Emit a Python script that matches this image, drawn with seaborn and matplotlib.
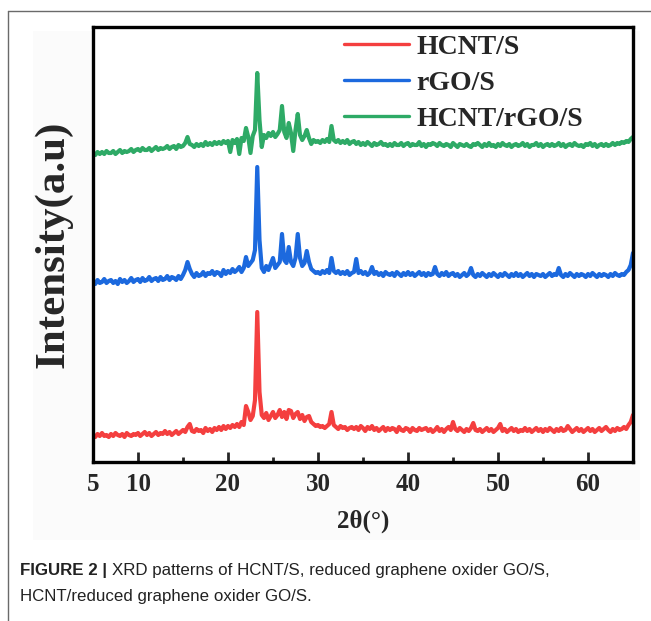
import numpy as np
import pandas as pd
import matplotlib
matplotlib.use("Agg")
import matplotlib.pyplot as plt
from matplotlib.lines import Line2D
from matplotlib.patches import Rectangle
from matplotlib.ticker import FixedLocator
import seaborn as sns

# ---------------- data ----------------
two_theta = np.arange(5.0, 65.001, 0.25)   # 241 sampling points

samples = ["HCNT/S", "rGO/S", "HCNT/rGO/S"]

hcnt_s = [
    27,25,28,26, 29,26,27,25, 28,26,29,27, 26,28,25,29, 27,26,28,27,
    29,26,28,30, 27,29,26,28, 30,27,29,28, 31,28,30,27, 29,31,28,30,
    32,30,35,38, 31,30,33,31, 32,29,34,31, 33,30,34,32, 35,32,36,33,
    36,34,37,35, 38,35,40,37, 56,50,42,46, 62,150,70,47, 44,49,42,46,
    50,44,47,52, 45,50,43,52, 51,44,48,50, 43,47,41,45, 46,40,38,36,
    37,35,36,34, 36,38,50,37, 35,33,36,34, 35,32,34,35, 33,35,32,36,
    34,31,35,33, 36,32,34,31, 33,35,31,34, 32,34,33,30, 35,32,31,34,
    33,30,34,32, 31,34,32,33, 34,31,33,30, 32,35,31,33, 30,33,35,32,
    40,33,31,34, 32,30,33,31, 34,39,32,31, 33,30,32,34, 31,33,30,32,
    34,38,31,33, 30,32,34,31, 33,30,32,31, 34,31,33,30, 32,34,31,33,
    30,33,31,34, 32,30,33,31, 34,31,32,36, 33,30,32,34, 31,33,30,32,
    34,31,33,30, 32,34,31,33, 35,32,30,33, 31,34,32,33, 35,33,37,40,
    47,
]

rgo_s = [
    29,26,30,27, 28,31,27,29, 30,27,29,26, 31,28,30,27, 29,32,28,30,
    31,28,32,29, 30,33,29,31, 32,29,33,30, 31,34,30,33, 32,30,34,31,
    35,40,48,41, 36,33,37,34, 35,38,34,37, 36,39,35,38, 37,34,40,36,
    39,37,41,38, 40,43,38,42, 53,44,47,50, 60,143,70,42, 38,44,40,46,
    52,42,45,48, 76,50,47,63, 48,44,52,76, 52,44,47,59, 48,41,39,37,
    38,36,39,37, 40,37,52,39, 37,39,36,38, 36,39,35,37, 38,51,37,39,
    36,38,35,37, 43,36,38,35, 37,34,38,36, 35,37,34,38, 36,34,37,35,
    38,35,37,34, 36,38,35,37, 34,37,35,36, 43,36,34,37, 35,38,34,36,
    37,34,36,33, 35,37,34,36, 42,35,33,36, 34,37,35,33, 36,34,37,35,
    33,36,34,37, 35,33,36,34, 37,34,36,33, 35,37,34,36, 33,36,35,34,
    36,33,35,37, 34,36,35,42, 35,33,36,34, 37,35,33,36, 34,36,35,33,
    36,34,37,35, 33,36,34,36, 35,33,36,34, 37,35,34,36, 35,38,40,45,
    57,
]

hcnt_rgo_s = [
    27,25,28,26, 28,26,29,27, 27,29,26,28, 30,27,29,28, 29,31,28,30,
    31,29,32,30, 30,32,29,31, 33,30,32,31, 32,34,31,33, 34,31,35,33,
    34,37,43,36, 35,33,36,34, 36,34,38,35, 37,35,38,36, 38,36,39,37,
    39,28,40,37, 41,26,42,39, 52,43,27,44, 50,107,60,33, 45,42,47,44,
    48,43,46,50, 74,48,42,57, 47,29,50,66, 45,40,44,50, 42,36,40,38,
    39,37,40,38, 41,38,54,40, 38,40,37,39, 37,40,36,38, 39,36,38,35,
    37,35,38,36, 34,37,35,36, 38,35,36,34, 36,34,37,35, 35,37,34,36,
    37,34,36,35, 35,38,34,36, 33,36,35,37, 36,34,37,35, 34,36,35,33,
    37,35,33,36, 35,34,36,34, 33,36,35,37, 35,33,36,34, 37,34,35,33,
    36,34,37,35, 34,36,33,35, 36,34,35,37, 34,36,33,35, 35,37,34,36,
    33,35,36,34, 36,34,35,37, 34,36,33,35, 36,34,37,35, 34,35,33,36,
    35,37,34,36, 33,35,36,34, 36,34,35,37, 35,37,36,38, 37,39,38,41,
    43,
]

stack_offsets = [0, 152, 282]   # vertical stacking of the patterns

x_ticks = [5, 10, 20, 30, 40, 50, 60]
x_minor = [15, 25, 35, 45, 55]

colors = {"HCNT/S": "#F43F3F", "rGO/S": "#1C69DE", "HCNT/rGO/S": "#2EAA66"}

# ---------------- build long table ----------------
frames = []
for name, vals, off in zip(samples, [hcnt_s, rgo_s, hcnt_rgo_s], stack_offsets):
    frames.append(pd.DataFrame({"two_theta": two_theta,
                                "intensity": np.asarray(vals, float) + off,
                                "sample": name}))
df = pd.concat(frames, ignore_index=True)

# ---------------- figure ----------------
sns.set_theme(style="white")
plt.rcParams["font.family"] = ["Liberation Serif", "DejaVu Serif"]

W, H = 651, 621
fig = plt.figure(figsize=(W / 100, H / 100), dpi=100)
fig.patch.set_facecolor("white")

fig.add_artist(Rectangle((33 / W, 1 - 540 / H), (640 - 33) / W, (540 - 31) / H,
                         transform=fig.transFigure, facecolor="#fbfbfb",
                         edgecolor="none", zorder=0))
fig.add_artist(Line2D([8 / W, 8 / W], [0, 1 - 11 / H], transform=fig.transFigure,
                      color="#6a6a6a", lw=1.0))
fig.add_artist(Line2D([8 / W, 1], [1 - 11 / H, 1 - 11 / H], transform=fig.transFigure,
                      color="#6a6a6a", lw=1.0))

L, R, T, B = 93, 633, 27, 462
ax = fig.add_axes([L / W, 1 - B / H, (R - L) / W, (B - T) / H])
ax.set_facecolor("white")

sns.lineplot(data=df, x="two_theta", y="intensity", hue="sample",
             hue_order=samples, palette=colors, estimator=None, sort=False,
             linewidth=3.0, ax=ax, legend=False)

ax.set_xlim(5, 65)
ax.set_ylim(0, B - T)
ax.set_yticks([])
ax.xaxis.set_major_locator(FixedLocator(x_ticks))
ax.xaxis.set_minor_locator(FixedLocator(x_minor))
ax.set_xticklabels([str(t) for t in x_ticks])
ax.tick_params(axis="x", which="major", direction="in", length=7, width=2,
               bottom=True, top=False, labelsize=18, pad=8)
ax.tick_params(axis="x", which="minor", direction="in", length=3.5, width=2,
               bottom=True, top=False)
for lab in ax.get_xticklabels():
    lab.set_fontweight("bold")
for s in ax.spines.values():
    s.set_linewidth(2.4)
    s.set_color("black")

ax.set_xlabel("2θ(°)", fontsize=18, fontweight="bold", labelpad=10)
ax.set_ylabel("Intensity(a.u)", fontsize=31, fontweight="bold", labelpad=15)

handles = [Line2D([], [], color=colors[s], lw=2.4) for s in samples]
ax.legend(handles, samples, loc="upper right", bbox_to_anchor=(0.907, 0.983),
          frameon=False, borderpad=0, borderaxespad=0,
          handlelength=2.35, handletextpad=0.25, labelspacing=0.38,
          prop={"family": "Liberation Serif", "weight": "bold", "size": 20})

# ---------------- caption ----------------
cap_font = ["Liberation Sans", "DejaVu Sans"]
t1 = fig.text(20 / W, 1 - 571 / H, "FIGURE 2 |", fontsize=12.2, fontweight="bold",
              family=cap_font, va="center", ha="left", color="#222222")
fig.canvas.draw()
bb = t1.get_window_extent()
fig.text(bb.x1 / W + 5 / W, 1 - 571 / H,
         "XRD patterns of HCNT/S, reduced graphene oxider GO/S,",
         fontsize=12.2, family=cap_font, va="center", ha="left", color="#222222")
fig.text(20 / W, 1 - 597 / H, "HCNT/reduced graphene oxider GO/S.",
         fontsize=12.2, family=cap_font, va="center", ha="left", color="#222222")

fig.savefig("out.png", dpi=100)
